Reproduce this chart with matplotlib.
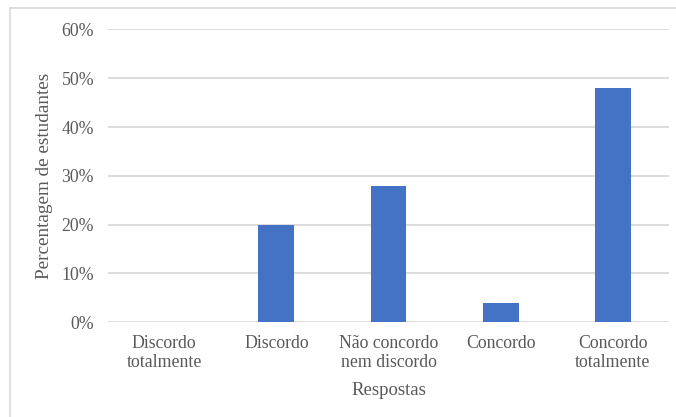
import matplotlib
matplotlib.use("Agg")
import matplotlib.pyplot as plt
from matplotlib.lines import Line2D
from matplotlib.ticker import FuncFormatter, FixedLocator

categories = ["Discordo\ntotalmente", "Discordo", "Não concordo\nnem discordo", "Concordo", "Concordo\ntotalmente"]
values = [0.0, 0.20, 0.28, 0.04, 0.48]
yticks = [0.0, 0.1, 0.2, 0.3, 0.4, 0.5, 0.6]

plt.rcParams['font.family'] = ['Liberation Serif', 'DejaVu Serif']
text_color = '#595959'
grid_color = '#d9d9d9'
bar_color = '#4472C4'

W, H = 676, 417
fig = plt.figure(figsize=(W/100, H/100), dpi=100)
ax = fig.add_axes([108/W, 1-322.3/H, (669-108)/W, (322.3-28.5)/H])

x = list(range(len(categories)))
ax.bar(x, values, width=0.32, color=bar_color, zorder=3)
ax.set_xlim(-0.5, len(categories)-0.5)
ax.set_ylim(0, 0.602)
ax.yaxis.set_major_locator(FixedLocator(yticks))
ax.yaxis.set_major_formatter(FuncFormatter(lambda v, p: f"{v*100:.0f}%"))
ax.grid(axis='y', color=grid_color, linewidth=1.3, zorder=0)
for s in ax.spines.values():
    s.set_visible(False)
ax.tick_params(axis='both', length=0, colors=text_color, labelsize=12.8)
ax.tick_params(axis='y', pad=10)
ax.tick_params(axis='x', pad=9)
ax.set_xticks(x)
ax.set_xticklabels(categories, linespacing=1.15)
ax.set_xlabel("Respostas", fontsize=13.5, color=text_color, labelpad=8)
ax.set_ylabel("Percentagem de estudantes", fontsize=13.8, color=text_color, labelpad=6)

fig.add_artist(Line2D([9.5/W, 9.5/W], [0, 1-7.5/H], color=grid_color, linewidth=1.2, transform=fig.transFigure))
fig.add_artist(Line2D([9.5/W, 1], [1-7.5/H, 1-7.5/H], color=grid_color, linewidth=1.2, transform=fig.transFigure))

fig.savefig("out.png", dpi=100)
